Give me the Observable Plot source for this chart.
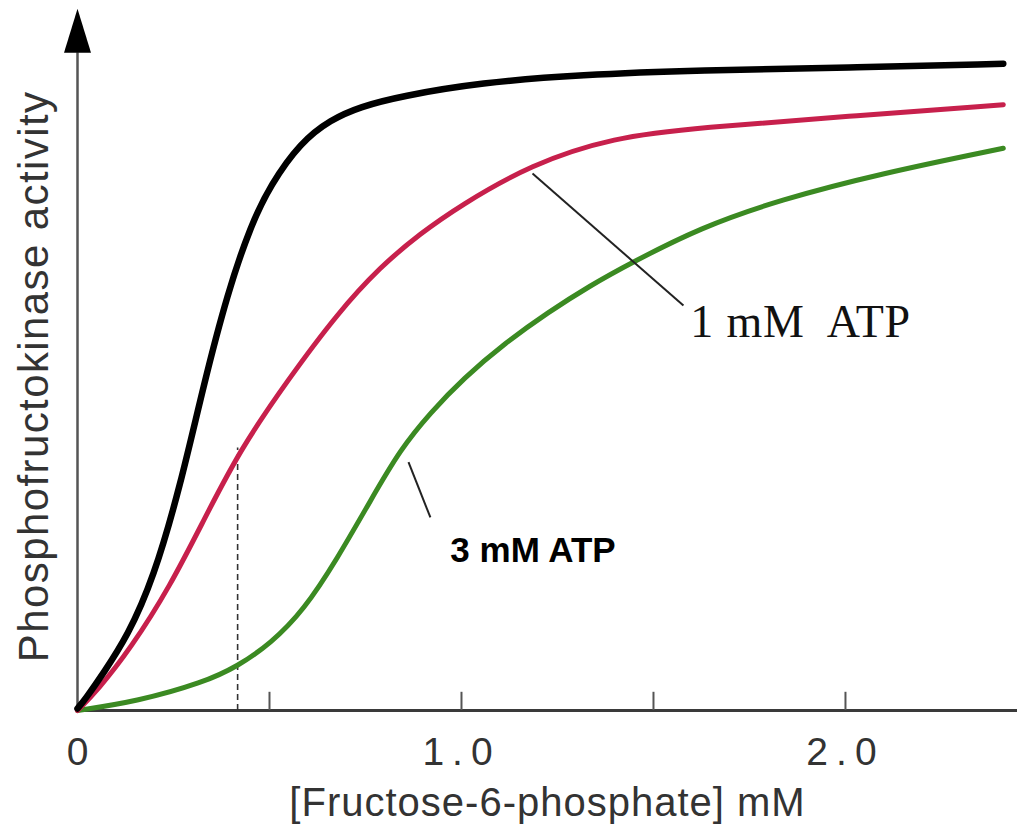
<!DOCTYPE html>
<html>
<head>
<meta charset="utf-8">
<script src="https://cdn.jsdelivr.net/npm/d3@7"></script>
<script src="https://cdn.jsdelivr.net/npm/@observablehq/plot@0.6"></script>
<style>
  html, body { margin: 0; padding: 0; background: #fff; }
  #chart svg { display: block; }
</style>
</head>
<body>
<div id="chart"></div>
<script>
// [Fructose-6-phosphate] (mM) and relative phosphofructokinase activity
const noAtpX = [0, 0.021, 0.068, 0.130, 0.198, 0.268, 0.328, 0.391, 0.451, 0.503, 0.581, 0.659, 0.737, 0.841, 1.049, 1.310, 1.622, 2.005, 2.411];
const noAtpY = [0.003, 0.018, 0.058, 0.114, 0.203, 0.346, 0.500, 0.643, 0.746, 0.809, 0.874, 0.909, 0.929, 0.945, 0.966, 0.978, 0.985, 0.989, 0.995];

const atp1X = [0, 0.052, 0.138, 0.242, 0.328, 0.424, 0.547, 0.677, 0.789, 0.893, 0.997, 1.180, 1.396, 1.622, 2.005, 2.411];
const atp1Y = [0, 0.031, 0.095, 0.192, 0.292, 0.402, 0.508, 0.611, 0.683, 0.734, 0.777, 0.840, 0.882, 0.897, 0.914, 0.932];

const atp3X = [0, 0.156, 0.328, 0.417, 0.503, 0.589, 0.677, 0.763, 0.841, 0.919, 1.005, 1.115, 1.224, 1.336, 1.440, 1.622, 1.831, 2.091, 2.411];
const atp3Y = [0, 0.014, 0.043, 0.068, 0.103, 0.154, 0.234, 0.323, 0.402, 0.458, 0.511, 0.566, 0.612, 0.654, 0.688, 0.743, 0.786, 0.826, 0.865];

const tickMarks = [0.5, 1.0, 1.5, 2.0];
const tickLabels = [0, 1.0, 2.0];
const dashedX = [0.417];
const dashedTop = 0.404;

const xTitle = "[Fructose-6-phosphate] mM";
const yTitle = "Phosphofructokinase activity";
const label1 = "1 mM\u00a0 ATP";
const label3 = "3 mM ATP";
const label1Pos = {x: 1.596, y: 0.597};
const label3Pos = {x: 0.971, y: 0.245};
const leader1 = {x1: 1.185, y1: 0.826, x2: 1.578, y2: 0.623};
const leader3 = {x1: 0.862, y1: 0.382, x2: 0.919, y2: 0.297};
const yAxisTop = 1.012;

const toRows = (xs, ys) => xs.map((x, i) => ({x, y: ys[i]}));
const noAtp = toRows(noAtpX, noAtpY);
const atp1 = toRows(atp1X, atp1Y);
const atp3 = toRows(atp3X, atp3Y);
const tickText = d => d === 0 ? "0" : d.toFixed(1);

const arrowHead = {
  draw(context, l) {
    context.moveTo(0, -l);
    context.lineTo(13.5, 0);
    context.lineTo(-13.5, 0);
    context.closePath();
  }
};

const sans = "'Liberation Sans', Arial, Helvetica, sans-serif";

const chart = Plot.plot({
  width: 1017,
  height: 829,
  marginLeft: 77,
  marginRight: 0,
  marginTop: 8,
  marginBottom: 119,
  style: {background: "#fff", fontFamily: sans},
  x: {domain: [0, 2.448], axis: null},
  y: {domain: [0, 1.08], axis: null},
  marks: [
    // axes
    Plot.ruleY([0], {stroke: "#3a3a3a", strokeWidth: 2.8}),
    Plot.ruleX([0], {y1: 0, y2: yAxisTop, stroke: "#555", strokeWidth: 2.5}),
    Plot.vector([0], {x: d => d, y: yAxisTop, length: 44, anchor: "start", shape: arrowHead, fill: "#000", stroke: "none"}),
    Plot.ruleX(tickMarks, {y1: 0, y2: 0.028, stroke: "#555", strokeWidth: 2}),
    Plot.text(tickLabels, {x: d => d, y: 0, dy: 42, text: tickText, fontSize: 39, fill: "#333"}),
    Plot.text([xTitle], {frameAnchor: "bottom", dy: 105, fontSize: 40, fill: "#333"}),
    Plot.text([yTitle], {frameAnchor: "left", textAnchor: "middle", y: 0.514, dx: -43, rotate: -90, fontSize: 42, fill: "#333"}),
    // dashed guide
    Plot.ruleX(dashedX, {y1: 0, y2: dashedTop, stroke: "#333", strokeWidth: 1.6, strokeDasharray: "6,4"}),
    // curves
    Plot.line(atp3, {x: "x", y: "y", stroke: "#3b8a22", strokeWidth: 5, curve: "basis"}),
    Plot.line(atp1, {x: "x", y: "y", stroke: "#c7204c", strokeWidth: 5, curve: "basis"}),
    Plot.line(noAtp, {x: "x", y: "y", stroke: "#000", strokeWidth: 6.5, curve: "basis"}),
    // labels and leaders
    Plot.link([leader1], {x1: "x1", y1: "y1", x2: "x2", y2: "y2", stroke: "#222", strokeWidth: 2}),
    Plot.link([leader3], {x1: "x1", y1: "y1", x2: "x2", y2: "y2", stroke: "#222", strokeWidth: 2}),
    Plot.text([label1], {x: label1Pos.x, y: label1Pos.y, textAnchor: "start", fontSize: 46, fontFamily: "'Liberation Serif', 'Times New Roman', serif", fill: "#111"}),
    Plot.text([label3], {x: label3Pos.x, y: label3Pos.y, textAnchor: "start", fontSize: 35, fontWeight: "bold", fill: "#000"})
  ]
});
// widen the letter spacing of the texts, as in the picture
const spacing = new Map([
  ["1.0", "8px"],
  ["2.0", "8px"],
  [xTitle, "1px"],
  [yTitle, "1.4px"],
  [label1, "0.8px"]
]);
chart.querySelectorAll("text").forEach(el => {
  const s = spacing.get(el.textContent);
  if (s) {
    el.setAttribute("letter-spacing", s);
    el.style.letterSpacing = s;
  }
});
document.getElementById("chart").appendChild(chart);
</script>
</body>
</html>
